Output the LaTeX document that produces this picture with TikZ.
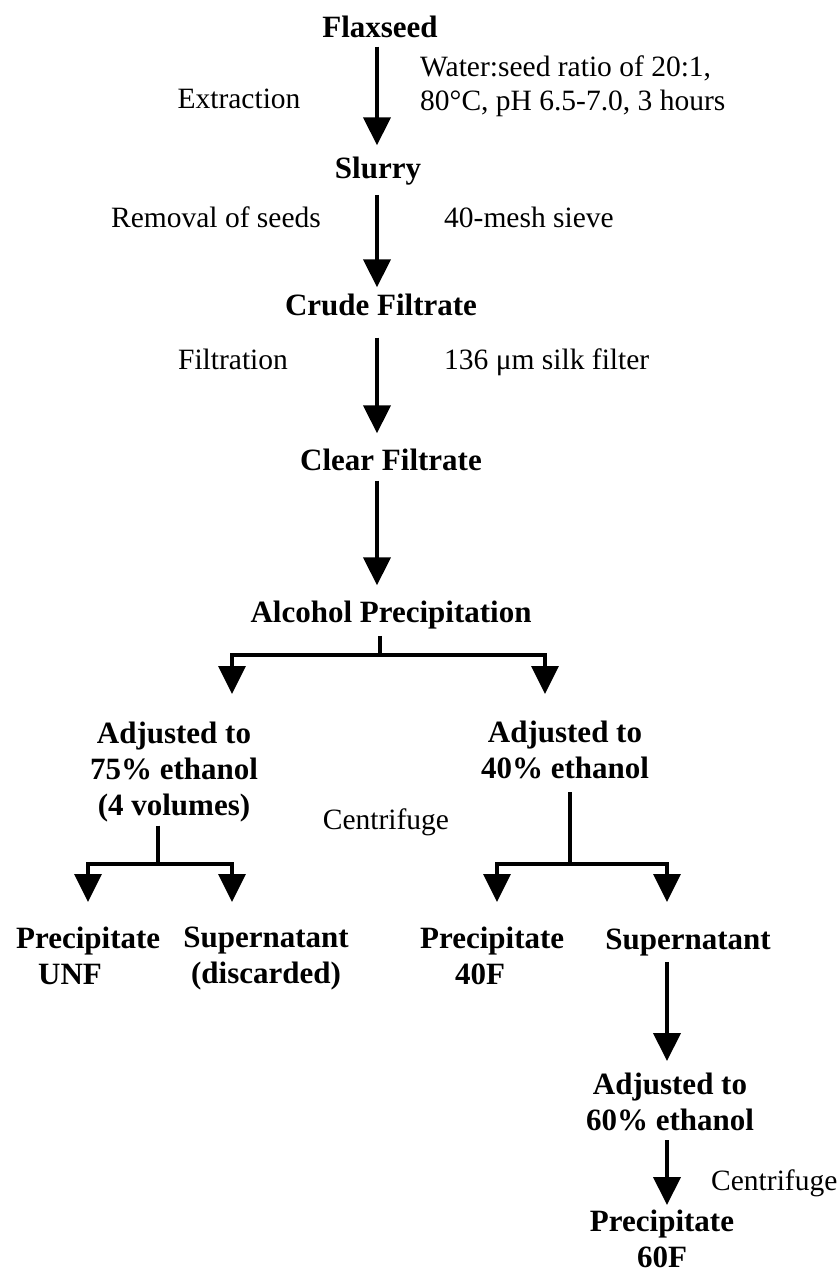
\documentclass[tikz,border=0pt]{standalone}
\usepackage{fontspec}
\setmainfont{Liberation Serif}
\usepackage{tikz}
\usetikzlibrary{positioning}
\usetikzlibrary{arrows.meta}

\tikzset{
	stage/.style={font=\fontsize{31}{36}\selectfont\bfseries, inner sep=0pt, align=center},
	note/.style={font=\fontsize{29.5}{34}\selectfont, inner sep=0pt, align=left},
	flow/.style={->, line width=4pt, shorten <=10pt, shorten >=16pt},
	bar/.style={line width=3.5pt},
}

\begin{document}
\begin{tikzpicture}[x=1pt,y=-1pt,>={Triangle[length=28pt,width=27pt]}]
				\useasboundingbox (0,0) rectangle (838,1278);

				% main column
				\node[stage, anchor=base]	(flax)	at (380,37)	{Flaxseed};
				\node[stage, anchor=base]	(slurry) at (378,178) {Slurry};
				\node[stage, anchor=base]	(crude)	at (381,315) {Crude Filtrate};
				\node[stage, anchor=base]	(clear)	at (391,470) {Clear Filtrate};
				\node[stage, anchor=base]	(alc)	at (391,622) {Alcohol Precipitation};
				\coordinate (axis) at (377,0);

				% notes beside the arrows
				\node[note, anchor=base]	(extr)	at (239,108) {Extraction};
				\node[note, anchor=north west] (cond) at (420,56) {Water:seed ratio of 20:1,\\80°C, pH 6.5-7.0, 3 hours};
				\node[note, anchor=base]	(remove) at (216,227) {Removal of seeds};
				\node[note, anchor=base west] (sieve) at (444,227) {40-mesh sieve};
				\node[note, anchor=base]	(filt)	at (233,369) {Filtration};
				\node[note, anchor=base west] (silk) at (444,369) {136 μm silk filter};

				\draw[flow, shorten <=9pt, shorten >=11pt] (flax.south -| axis) -- (slurry.north -| axis);
				\draw[flow, shorten >=6pt] (slurry.south -| axis) -- (crude.north -| axis);
				\draw[flow, shorten <=22pt, shorten >=15pt] (crude.south -| axis) -- (clear.north -| axis);
				\draw[flow, shorten >=15pt] (clear.south -| axis) -- (alc.north -| axis);

				% two ethanol levels
				\node[stage, anchor=north]	(adj75)	at (174,722) {Adjusted to\\75\% ethanol\\(4 volumes)};
				\node[stage, anchor=north]	(adj40)	at (565,721) {Adjusted to\\40\% ethanol};
				\node[note, anchor=base]	(cent1)	at (386,829) {Centrifuge};

				\coordinate (fork1) at (380,655);
				\coordinate (tip75) at (232,694);
				\coordinate (tip40) at (545,694);
				\draw[bar, shorten <=7pt] (alc.south -| fork1) -- (fork1);
				\draw[bar, ->] (fork1) -| (tip75);
				\draw[bar, ->] (fork1) -| (tip40);

				% after the first centrifuge
				\node[stage, align=left, anchor=north west] (pUNF) at (16,927) {Precipitate\\\hspace*{22pt}UNF};
				\node[stage, anchor=north]	(sup1)	at (266,927) {Supernatant\\(discarded)};
				\node[stage, align=left, anchor=north west] (p40) at (420,927) {Precipitate\\\hspace*{35pt}40F};
				\node[stage, anchor=base]	(sup2)	at (688,949) {Supernatant};

				\coordinate (fork2) at (158,864);
				\coordinate (tipUNF) at (88,902);
				\coordinate (tipdis) at (232,902);
				\draw[bar, shorten <=3pt] (adj75.south -| fork2) -- (fork2);
				\draw[bar, ->] (fork2) -| (tipUNF);
				\draw[bar, ->] (fork2) -| (tipdis);

				\coordinate (fork3) at (570,864);
				\coordinate (tip40F) at (497,902);
				\coordinate (tipsup) at (667,902);
				\draw[bar, shorten <=13pt] (adj40.south -| fork3) -- (fork3);
				\draw[bar, ->] (fork3) -| (tip40F);
				\draw[bar, ->] (fork3) -| (tipsup);

				% second precipitation
				\node[stage, anchor=north]	(adj60)	at (670,1073) {Adjusted to\\60\% ethanol};
				\node[note, anchor=base west] (cent2) at (711,1190) {Centrifuge};
				\node[stage, anchor=north]	(p60)	at (662,1210) {Precipitate\\60F};
				\coordinate (axis2) at (667,0);

				\draw[flow, shorten <=6pt, shorten >=12pt] (sup2.south -| axis2) -- (adj60.north -| axis2);
				\draw[flow, shorten <=9pt, shorten >=5pt] (adj60.south -| axis2) -- (p60.north -| axis2);
\end{tikzpicture}
\end{document}
